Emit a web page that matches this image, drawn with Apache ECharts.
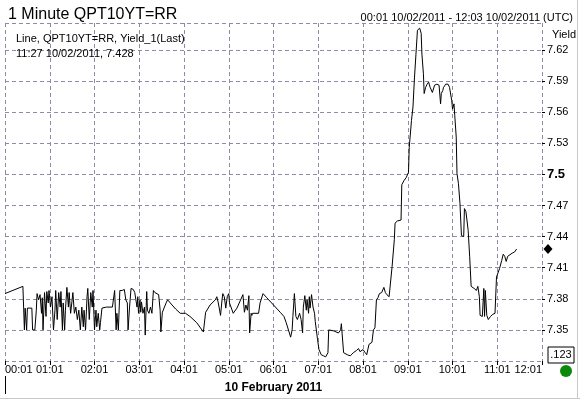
<!DOCTYPE html>
<html><head><meta charset="utf-8">
<script src="https://cdn.jsdelivr.net/npm/echarts@6/dist/echarts.min.js"></script>
<style>html,body{margin:0;padding:0;background:#fff}#c{width:580px;height:402px}</style>
</head><body><div id="c"></div>
<script>
// minutes after midnight, 10 February 2011
const minutes = [1,25,26,27,28,30,31,37,38,41,43,44,46,48,50,51,52,54,56,57,59,60,62,64,66,68,69,71,73,75,76,78,79,81,82,84,86,87,89,91,92,94,96,98,100,102,104,106,107,109,111,112,114,116,118,119,121,123,124,126,128,129,131,137,145,148,150,151,153,155,158,161,163,165,166,168,170,173,175,178,179,180,182,183,184,186,188,189,191,192,194,196,198,200,202,207,209,210,212,214,217,219,225,230,236,243,249,258,267,270,276,283,285,287,290,292,293,295,297,299,301,302,304,307,312,320,322,324,326,328,329,331,332,333,341,343,347,352,361,370,375,378,384,386,387,389,391,393,396,398,400,401,403,405,406,408,409,410,412,414,416,417,420,422,425,428,431,434,435,442,448,451,452,454,455,460,464,468,472,475,477,481,484,486,489,491,493,495,497,499,501,503,506,509,511,513,516,518,520,523,524,527,532,533,536,539,542,543,546,548,550,551,552,554,557,558,559,560,562,563,565,567,569,571,574,576,577,580,583,585,586,588,589,592,595,597,600,601,603,604,606,607,609,611,613,616,617,619,622,624,626,630,633,635,637,638,641,643,644,645,647,649,652,655,658,660,662,664,667,669,671,673,675,677,681,684,687];
const yields = [7.385,7.392,7.371,7.350,7.371,7.350,7.371,7.371,7.350,7.350,7.369,7.385,7.379,7.384,7.366,7.381,7.350,7.386,7.363,7.387,7.376,7.388,7.372,7.382,7.350,7.369,7.388,7.360,7.386,7.372,7.387,7.350,7.376,7.350,7.369,7.391,7.372,7.386,7.366,7.379,7.386,7.366,7.372,7.360,7.369,7.350,7.372,7.353,7.369,7.350,7.382,7.390,7.360,7.386,7.372,7.388,7.350,7.369,7.353,7.366,7.350,7.357,7.371,7.372,7.372,7.388,7.350,7.366,7.350,7.388,7.388,7.389,7.379,7.376,7.350,7.372,7.390,7.389,7.386,7.372,7.382,7.366,7.379,7.367,7.377,7.366,7.372,7.345,7.387,7.369,7.366,7.372,7.366,7.388,7.386,7.384,7.369,7.348,7.367,7.367,7.376,7.379,7.374,7.370,7.366,7.366,7.363,7.357,7.348,7.367,7.374,7.379,7.382,7.376,7.364,7.379,7.385,7.382,7.371,7.382,7.385,7.376,7.377,7.366,7.371,7.384,7.367,7.374,7.369,7.383,7.347,7.366,7.364,7.366,7.366,7.376,7.385,7.381,7.374,7.367,7.363,7.357,7.343,7.350,7.363,7.385,7.363,7.360,7.366,7.360,7.347,7.372,7.383,7.369,7.379,7.366,7.382,7.371,7.384,7.372,7.366,7.358,7.341,7.331,7.326,7.325,7.324,7.328,7.350,7.349,7.347,7.350,7.356,7.356,7.328,7.326,7.325,7.328,7.330,7.332,7.329,7.331,7.328,7.326,7.336,7.337,7.338,7.350,7.352,7.379,7.381,7.385,7.386,7.391,7.386,7.384,7.382,7.382,7.411,7.437,7.453,7.455,7.456,7.490,7.494,7.497,7.502,7.526,7.552,7.565,7.593,7.594,7.616,7.639,7.641,7.642,7.636,7.616,7.597,7.578,7.584,7.587,7.589,7.584,7.579,7.579,7.586,7.587,7.586,7.568,7.578,7.581,7.584,7.587,7.587,7.584,7.571,7.563,7.568,7.557,7.536,7.501,7.491,7.472,7.441,7.440,7.467,7.464,7.446,7.421,7.392,7.390,7.388,7.392,7.382,7.364,7.363,7.390,7.363,7.388,7.364,7.360,7.363,7.365,7.366,7.401,7.402,7.409,7.417,7.423,7.421,7.416,7.421,7.422,7.424,7.425,7.428];

const xTickLabels = ['00:01','01:01','02:01','03:01','04:01','05:01','06:01','07:01','08:01','09:01','10:01','11:01','12:01'];
const yTickLabels = ['7.35','7.38','7.41','7.44','7.47','7.5','7.53','7.56','7.59','7.62'];
const yBoldLabel = '7.5';
const lastLabel = '11:27 10/02/2011, 7.428';
const lastValue = 7.428;

const titleText = '1 Minute QPT10YT=RR';
const rangeText = '00:01 10/02/2011 - 12:03 10/02/2011 (UTC)';
const legendText = 'Line, QPT10YT=RR, Yield_1(Last)';
const dateText = '10 February 2011';
const yName = 'Yield';
const boxText = '.123';

const X_MIN = 1, X_MAX = 721, X_STEP = 60;
const Y_MIN = 7.32, Y_MAX = 7.646, Y_STEP = 0.03;

const FONT = '"Liberation Sans", Arial, sans-serif';
const GRID_COLOR = '#8c8ca4';

const chart = echarts.init(document.getElementById('c'), null, {renderer: 'canvas'});
chart.setOption({
  animation: false,
  backgroundColor: '#ffffff',
  title: [
    {text: titleText, left: 3, top: 2, textStyle: {fontFamily: FONT, fontSize: 16, fontWeight: 'normal', color: '#000'}},
    {text: rangeText, right: 2, top: 7, textStyle: {fontFamily: FONT, fontSize: 11, fontWeight: 'normal', color: '#000'}},
    {text: legendText, left: 11, top: 28, textStyle: {fontFamily: FONT, fontSize: 11, fontWeight: 'normal', color: '#000'}},
    {text: lastLabel, left: 11, top: 43, textStyle: {fontFamily: FONT, fontSize: 11, fontWeight: 'normal', color: '#000'}}
  ],
  grid: {left: 5, right: 38, top: 23, bottom: 41, containLabel: false},
  xAxis: {
    type: 'value', min: X_MIN, max: X_MAX, interval: X_STEP,
    name: dateText, nameLocation: 'middle', nameGap: 21,
    nameTextStyle: {fontFamily: FONT, fontSize: 12, fontWeight: 'bold', color: '#000'},
    axisLine: {show: false},
    axisTick: {show: true, length: 4, lineStyle: {color: '#000'}},
    axisLabel: {
      fontFamily: FONT, fontSize: 11, color: '#000', margin: 3,
      alignMinLabel: 'left', alignMaxLabel: 'right',
      formatter: v => { const i = Math.round((v - X_MIN) / X_STEP); return xTickLabels[i] || ''; }
    },
    splitLine: {show: true, lineStyle: {color: GRID_COLOR, type: [4, 3], width: 1}}
  },
  yAxis: {
    type: 'value', position: 'right', min: Y_MIN, max: Y_MAX, interval: Y_STEP,
    name: yName, nameLocation: 'end', nameGap: -12,
    nameTextStyle: {fontFamily: FONT, fontSize: 11, color: '#000', align: 'left', verticalAlign: 'middle', padding: [0, 0, 0, 10]},
    axisLine: {show: false},
    axisTick: {show: true, length: 3, lineStyle: {color: '#000'}},
    axisLabel: {
      fontFamily: FONT, fontSize: 11, color: '#000', margin: 5,
      showMinLabel: false, showMaxLabel: false,
      formatter: v => {
        const s = String(parseFloat(v.toFixed(2)));
        if (yTickLabels.indexOf(s) < 0) return '';
        return s === yBoldLabel ? '{b|' + s + '}' : s;
      },
      rich: {b: {fontFamily: FONT, fontSize: 13, fontWeight: 'bold', color: '#000'}}
    },
    splitLine: {show: true, lineStyle: {color: GRID_COLOR, type: [4, 3], width: 1}}
  },
  series: [{
    type: 'line',
    data: minutes.map((m, i) => [m, yields[i]]),
    showSymbol: false,
    symbol: 'none',
    lineStyle: {color: '#000', width: 1},
    markPoint: {
      symbol: 'diamond', symbolSize: [9, 10], symbolOffset: [6, 0],
      itemStyle: {color: '#000'}, label: {show: false},
      data: [{coord: [X_MAX, lastValue]}]
    }
  }],
  graphic: [
    {type: 'rect', shape: {x: 548, y: 347, width: 26, height: 16}, style: {fill: '#fff', stroke: '#000', lineWidth: 1}},
    {type: 'text', x: 561, y: 355, style: {text: boxText, font: '11px ' + FONT, fill: '#000', align: 'center', verticalAlign: 'middle'}},
    {type: 'circle', shape: {cx: 566, cy: 371, r: 6}, style: {fill: '#0a8a0a'}},
    {type: 'line', shape: {x1: 5.5, y1: 376, x2: 5.5, y2: 394}, style: {stroke: '#000', lineWidth: 1}},
    {type: 'line', shape: {x1: 0, y1: 398.5, x2: 580, y2: 398.5}, style: {stroke: '#c8c8c8', lineWidth: 1}},
    {type: 'line', shape: {x1: 577.5, y1: 0, x2: 577.5, y2: 399}, style: {stroke: '#c8c8c8', lineWidth: 1}}
  ]
});
</script>
</body></html>
